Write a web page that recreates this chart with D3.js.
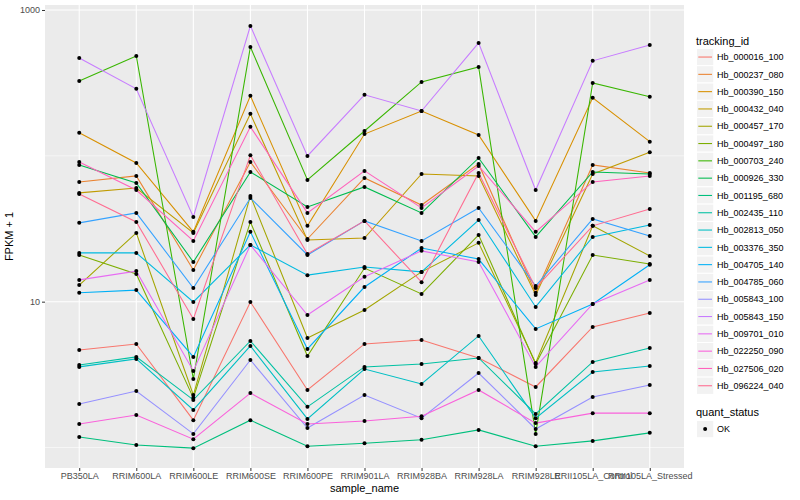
<!DOCTYPE html>
<html>
<head>
<meta charset="utf-8">
<script src="https://cdn.jsdelivr.net/npm/d3@7"></script>
<style>
body { margin: 0; background: #fff; }
text { font-family: "Liberation Sans", Arial, sans-serif; }
</style>
</head>
<body>
<svg width="800" height="500"></svg>
<script>
// sample names on the x axis
const samples = ['PB350LA', 'RRIM600LA', 'RRIM600LE', 'RRIM600SE', 'RRIM600PE', 'RRIM901LA',
    'RRIM928BA', 'RRIM928LA', 'RRIM928LE', 'RRII105LA_Control', 'RRII105LA_Stressed'];

const trackingIds = ['Hb_000016_100', 'Hb_000237_080', 'Hb_000390_150', 'Hb_000432_040', 'Hb_000457_170',
    'Hb_000497_180', 'Hb_000703_240', 'Hb_000926_330', 'Hb_001195_680', 'Hb_002435_110',
    'Hb_002813_050', 'Hb_003376_350', 'Hb_004705_140', 'Hb_004785_060', 'Hb_005843_100',
    'Hb_005843_150', 'Hb_009701_010', 'Hb_022250_090', 'Hb_027506_020', 'Hb_096224_040'];

const hueColors = ['#F8766D', '#EA8331', '#D89000', '#C09B00', '#A3A500', '#7CAE00', '#39B600', '#00BB4E',
    '#00BF7D', '#00C1A3', '#00BFC4', '#00BAE0', '#00B0F6', '#35A2FF', '#9590FF', '#C77CFF',
    '#E76BF3', '#FA62DB', '#FF62BC', '#FF6C91'];

const yTicks = [10, 1000];
const yMinor = [1, 100];

// FPKM + 1, one value per sample
const hb000016_100 = [4.66, 5.13, 1.54, 9.95, 2.48, 5.13, 5.46, 4.11, 2.60, 6.71, 8.37];
const hb000237_080 = [66.2, 72.8, 16.5, 90.8, 26.9, 70.5, 46.0, 88.0, 11.5, 86.6, 76.3];
const hb000390_150 = [144, 89.4, 30.1, 258, 33.1, 141, 203, 139, 35.8, 250, 125];
const hb000432_040 = [55.7, 60.2, 29.6, 194, 26.5, 27.3, 75.1, 72.8, 11.1, 75.1, 106];
const hb000457_170 = [13.0, 29.6, 2.29, 53.1, 5.64, 8.77, 16.0, 25.3, 3.80, 33.1, 20.6];
const hb000497_180 = [20.9, 15.5, 2.19, 35.2, 4.24, 17.0, 11.3, 28.7, 3.74, 20.9, 18.1];
const hb000703_240 = [326, 484, 2.95, 558, 68.3, 148, 321, 407, 1.24, 316, 254];
const hb000926_330 = [86.6, 65.2, 18.7, 77.5, 44.6, 61.2, 40.6, 96.7, 27.8, 77.5, 75.1];
const hb001195_680 = [1.18, 1.04, 0.99, 1.54, 1.02, 1.07, 1.13, 1.32, 1.02, 1.11, 1.26];
const hb002435_110 = [3.68, 4.18, 2.12, 5.38, 1.90, 3.57, 3.74, 4.11, 1.70, 3.86, 4.81];
const hb002813_050 = [3.57, 4.05, 1.81, 4.97, 1.57, 3.45, 2.73, 5.82, 1.59, 3.29, 3.62];
const hb003376_350 = [21.6, 21.6, 9.95, 24.5, 15.2, 17.3, 16.0, 36.3, 9.20, 27.8, 33.6];
const hb004705_140 = [11.5, 12.0, 4.18, 30.1, 4.74, 12.6, 23.3, 19.6, 6.50, 9.64, 17.9];
const hb004785_060 = [34.7, 40.6, 12.4, 51.4, 20.9, 35.8, 26.1, 43.9, 12.8, 36.9, 28.2];
const hb005843_100 = [1.99, 2.44, 1.24, 3.98, 1.36, 2.29, 1.59, 3.24, 1.34, 2.22, 2.68];
const hb005843_150 = [469, 288, 38.1, 778, 99.8, 262, 203, 595, 58.3, 448, 576];
const hb009701_010 = [14.1, 16.2, 3.35, 24.5, 8.10, 14.8, 22.3, 18.7, 3.57, 9.64, 14.1];
const hb022250_090 = [1.45, 1.67, 1.14, 2.36, 1.45, 1.52, 1.64, 2.48, 1.47, 1.72, 1.72];
const hb027506_020 = [90.8, 58.3, 26.1, 158, 40.6, 78.8, 43.9, 85.2, 30.1, 66.2, 72.8];
const hb096224_040 = [54.8, 35.2, 7.61, 101, 21.2, 35.8, 13.6, 76.3, 12.4, 33.1, 43.2];

const seriesValues = [hb000016_100, hb000237_080, hb000390_150, hb000432_040, hb000457_170,
    hb000497_180, hb000703_240, hb000926_330, hb001195_680, hb002435_110,
    hb002813_050, hb003376_350, hb004705_140, hb004785_060, hb005843_100,
    hb005843_150, hb009701_010, hb022250_090, hb027506_020, hb096224_040];

const series = trackingIds.map((id, i) => ({
    id,
    color: hueColors[i],
    values: samples.map((s, j) => ({ sample: s, value: seriesValues[i][j] }))
}));

const svg = d3.select('svg');
const margin = { top: 5, right: 116, bottom: 32, left: 45 };
const width = +svg.attr('width');
const height = +svg.attr('height');
const innerWidth = width - margin.left - margin.right;
const innerHeight = height - margin.top - margin.bottom;

const xScale = d3.scalePoint()
    .domain(samples)
    .range([0, innerWidth])
    .padding(0.6);

const yScale = d3.scaleLog()
    .domain([0.7235, 1082])
    .range([innerHeight, 0]);

const g = svg.append('g')
    .attr('transform', `translate(${margin.left},${margin.top})`);

g.append('rect')
    .attr('width', innerWidth)
    .attr('height', innerHeight)
    .attr('fill', '#EBEBEB');

// grid
g.selectAll('.minor').data(yMinor)
    .enter().append('line')
        .attr('x1', 0).attr('x2', innerWidth)
        .attr('y1', d => yScale(d)).attr('y2', d => yScale(d))
        .attr('stroke', '#fff').attr('stroke-width', 0.55);

g.selectAll('.major').data(yTicks)
    .enter().append('line')
        .attr('x1', 0).attr('x2', innerWidth)
        .attr('y1', d => yScale(d)).attr('y2', d => yScale(d))
        .attr('stroke', '#fff').attr('stroke-width', 1.07);

g.selectAll('.xgrid').data(samples)
    .enter().append('line')
        .attr('x1', d => xScale(d)).attr('x2', d => xScale(d))
        .attr('y1', 0).attr('y2', innerHeight)
        .attr('stroke', '#fff').attr('stroke-width', 1.07);

const line = d3.line()
    .x(d => xScale(d.sample))
    .y(d => yScale(d.value));

g.selectAll('.series').data(series)
    .enter().append('path')
        .attr('d', d => line(d.values))
        .attr('fill', 'none')
        .attr('stroke', d => d.color)
        .attr('stroke-width', 1.07);

g.selectAll('.pts').data(series.flatMap(d => d.values))
    .enter().append('circle')
        .attr('cx', d => xScale(d.sample))
        .attr('cy', d => yScale(d.value))
        .attr('r', 2)
        .attr('fill', '#000');

// axes
const yAxisG = g.append('g')
    .call(d3.axisLeft(yScale).tickValues(yTicks).tickFormat(d3.format('d')).tickSize(3).tickPadding(2));
yAxisG.select('.domain').remove();
yAxisG.selectAll('.tick line').attr('stroke', '#333');
yAxisG.selectAll('.tick text').attr('fill', '#4D4D4D').style('font-size', '9px');

const xAxisG = g.append('g')
    .attr('transform', `translate(0,${innerHeight})`)
    .call(d3.axisBottom(xScale).tickSize(3).tickPadding(2));
xAxisG.select('.domain').remove();
xAxisG.selectAll('.tick line').attr('stroke', '#333');
xAxisG.selectAll('.tick text').attr('fill', '#4D4D4D').style('font-size', '9px');

g.append('text')
    .attr('x', innerWidth / 2)
    .attr('y', innerHeight + 24)
    .attr('text-anchor', 'middle')
    .style('font-size', '11px')
    .text('sample_name');

g.append('text')
    .attr('transform', `translate(${-32},${innerHeight / 2}) rotate(-90)`)
    .attr('text-anchor', 'middle')
    .style('font-size', '11px')
    .text('FPKM + 1');

// legend
const legend = svg.append('g').attr('transform', 'translate(696,0)');
legend.append('text')
    .attr('x', 0).attr('y', 45)
    .style('font-size', '11px')
    .text('tracking_id');

const keySize = 17.3;
const keyTop = 48.4;
const keys = legend.selectAll('.key').data(series)
    .enter().append('g')
        .attr('transform', (d, i) => `translate(0,${keyTop + i * keySize})`);
keys.append('rect')
    .attr('x', 0.5).attr('width', keySize).attr('height', keySize)
    .attr('fill', '#F2F2F2').attr('stroke', '#fff');
keys.append('line')
    .attr('x1', 2.3).attr('x2', keySize - 1.3)
    .attr('y1', keySize / 2).attr('y2', keySize / 2)
    .attr('stroke', d => d.color).attr('stroke-width', 1.07);
keys.append('text')
    .attr('x', 21).attr('y', keySize / 2 + 3.2)
    .style('font-size', '9px')
    .text(d => d.id);

legend.append('text')
    .attr('x', 0).attr('y', 416)
    .style('font-size', '11px')
    .text('quant_status');
const okKey = legend.append('g').attr('transform', 'translate(0,420.4)');
okKey.append('rect')
    .attr('x', 0.5).attr('width', keySize).attr('height', keySize)
    .attr('fill', '#F2F2F2').attr('stroke', '#fff');
okKey.append('circle')
    .attr('cx', keySize / 2 + 0.5).attr('cy', keySize / 2).attr('r', 2).attr('fill', '#000');
okKey.append('text')
    .attr('x', 21).attr('y', keySize / 2 + 3.2)
    .style('font-size', '9px')
    .text('OK');
</script>
</body>
</html>
